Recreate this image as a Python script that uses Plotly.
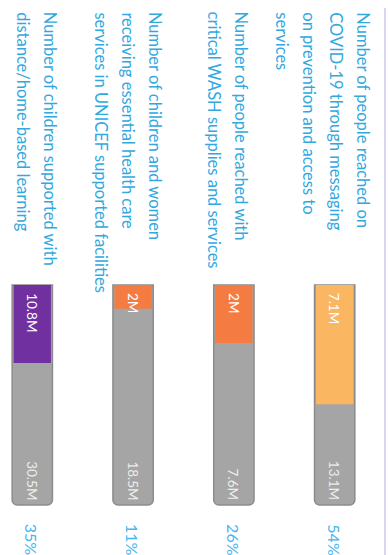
import plotly.graph_objects as go

# ---- data ----
categories = ["Learning", "Health", "WASH", "COVID"]
label_lines = [
    ["Number of children supported with", "distance/home-based learning"],
    ["Number of children and women", "receiving essential health care", "services in UNICEF supported facilities"],
    ["Number of people reached with", "critical WASH supplies and services"],
    ["Number of people reached on", "COVID-19 through messaging", "on prevention and access to", "services"],
]
achieved = [10.8, 2, 2, 7.1]
target = [30.5, 18.5, 7.6, 13.1]
achieved_labels = ["10.8M", "2M", "2M", "7.1M"]
target_labels = ["30.5M", "18.5M", "7.6M", "13.1M"]
pct_labels = ["35%", "11%", "26%", "54%"]

# ---- styling / layout (not data) ----
colors = ["#7030A0", "#F47B42", "#F47B42", "#FBB662"]
label_shift_px = [18, 22, 8, 28]   # first-line offset of each label block from its bar
line_gap_px = 27

frac = [a / t for a, t in zip(achieved, target)]
full = [1.0] * len(categories)

fig = go.Figure()
fig.add_trace(go.Bar(
    x=categories, y=full, width=0.4,
    marker=dict(color="#A5A5A5", line=dict(color="#8C8C8C", width=1.5), cornerradius=5),
    hoverinfo="skip",
))
fig.add_trace(go.Bar(
    x=categories, y=frac, width=0.37,
    marker=dict(color=colors, line=dict(width=0)),
    hoverinfo="skip",
))

blue = "#32A8DF"
font_txt = "Lato"
ann = []
for i, cat in enumerate(categories):
    for j, line in enumerate(label_lines[i]):
        ann.append(dict(
            x=cat, xref="x", y=1 - 10 / 555, yref="paper",
            xanchor="center", yanchor="top", xshift=label_shift_px[i] - line_gap_px * j,
            text=line, textangle=90, showarrow=False,
            font=dict(family=font_txt, size=16.5, color=blue),
        ))
    ann.append(dict(
        x=cat, xref="x", y=0, yref="y", xanchor="center", yanchor="top", yshift=-6,
        text=achieved_labels[i], textangle=90, showarrow=False,
        font=dict(family=font_txt, size=13.5, color="#FFFFFF"),
    ))
    ann.append(dict(
        x=cat, xref="x", y=1, yref="y", xanchor="center", yanchor="bottom", yshift=3,
        text=target_labels[i], textangle=90, showarrow=False,
        font=dict(family=font_txt, size=13.5, color="#EDEDED"),
    ))
    ann.append(dict(
        x=cat, xref="x", y=1, yref="y", xanchor="center", yanchor="top", yshift=-17,
        text=pct_labels[i], textangle=90, showarrow=False,
        font=dict(family=font_txt, size=16, color="#48B6EE"),
    ))

fig.update_layout(
    width=388, height=555,
    margin=dict(l=0, r=0, t=0, b=0),
    paper_bgcolor="white", plot_bgcolor="white",
    barmode="overlay", showlegend=False,
    xaxis=dict(range=[-0.3204, 3.529], visible=False),
    yaxis=dict(range=[1.2273, -1.2955], visible=False),
    annotations=ann,
    shapes=[dict(type="line", xref="paper", yref="paper", x0=385 / 388, x1=385 / 388,
                 y0=0, y1=1 - 8 / 555, line=dict(color="#D6D6EE", width=2))],
)

fig.write_html("out.html")
